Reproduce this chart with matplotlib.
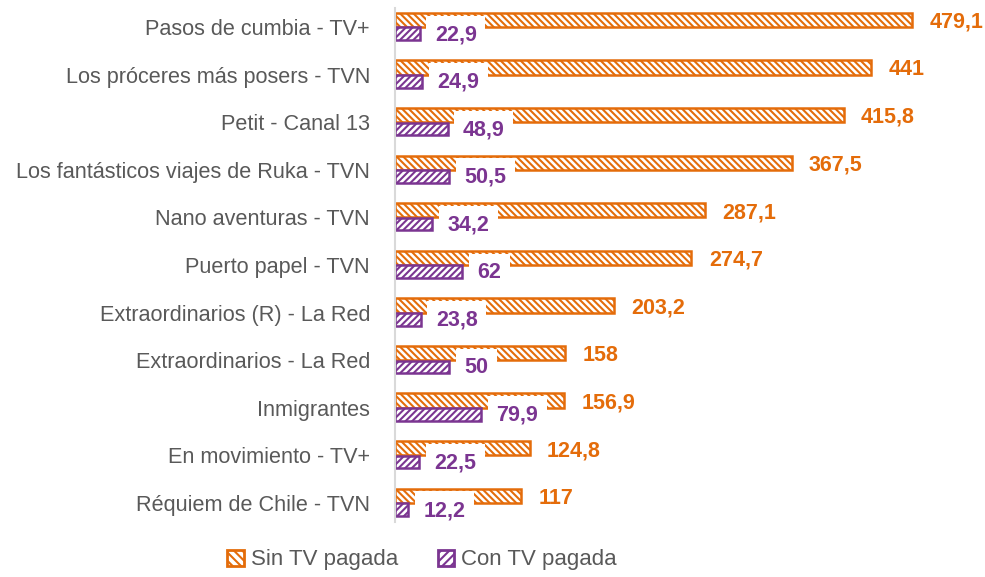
import matplotlib.pyplot as plt
from matplotlib.patches import Patch
import numpy as np

programas = ['Pasos de cumbia - TV+', 'Los próceres más posers - TVN', 'Petit - Canal 13',
             'Los fantásticos viajes de Ruka - TVN', 'Nano aventuras - TVN', 'Puerto papel - TVN',
             'Extraordinarios (R) - La Red', 'Extraordinarios - La Red', 'Inmigrantes',
             'En movimiento - TV+', 'Réquiem de Chile - TVN']
sin_tv = [479.1, 441, 415.8, 367.5, 287.1, 274.7, 203.2, 158, 156.9, 124.8, 117]
con_tv = [22.9, 24.9, 48.9, 50.5, 34.2, 62, 23.8, 50, 79.9, 22.5, 12.2]

naranja = '#E46C0A'
morado = '#7B3591'
gris = '#595959'

plt.rcParams['font.family'] = ['Liberation Sans', 'DejaVu Sans']
plt.rcParams['hatch.linewidth'] = 1.5

def fmt(v):
    s = f'{v:.1f}'.rstrip('0').rstrip('.')
    return s.replace('.', ',')

fig = plt.figure(figsize=(9.85, 5.77), dpi=100)
ax = fig.add_axes([395 / 985, 1 - 522 / 577, 580 / 985, 514 / 577])

y = np.arange(len(programas))
h = 0.3
ax.barh(y - 0.15, sin_tv, height=h, facecolor='white', edgecolor=naranja,
        hatch='\\\\\\\\\\', linewidth=1.8, zorder=2)
ax.barh(y + 0.14, con_tv, height=h * 0.88, facecolor='white', edgecolor=morado,
        hatch='/////', linewidth=1.8, zorder=2)

# etiquetas de valores
for i in range(len(programas)):
    ax.annotate(fmt(sin_tv[i]), (sin_tv[i], y[i] - 0.1), xytext=(12.5, 0),
                textcoords='offset points', ha='left', va='center',
                color=naranja, fontsize=15.5, fontweight='bold', zorder=5)
    ax.annotate(fmt(con_tv[i]), (con_tv[i], y[i] + 0.16), xytext=(11, 0),
                textcoords='offset points', ha='left', va='center',
                color=morado, fontsize=15.5, fontweight='bold', zorder=4,
                bbox=dict(boxstyle='square,pad=0.4', facecolor='white', edgecolor='none'))

ax.set_xlim(0, 537.5)
ax.set_ylim(10.4, -0.4)
ax.set_xticks([])
ax.set_yticks(y)
ax.set_yticklabels(programas, fontsize=15.6, color=gris)
ax.tick_params(axis='y', length=0, pad=18)
for lado in ['top', 'right', 'bottom']:
    ax.spines[lado].set_visible(False)
ax.spines['left'].set_color('#D9D9D9')
ax.spines['left'].set_linewidth(1.5)

manijas = [Patch(facecolor='white', edgecolor=naranja, hatch='\\\\\\\\', linewidth=2, label='Sin TV pagada'),
           Patch(facecolor='white', edgecolor=morado, hatch='////', linewidth=2, label='Con TV pagada')]
leg = fig.legend(handles=manijas, loc='center', bbox_to_anchor=(422 / 985, 1 - 560 / 577),
                 ncol=2, frameon=False, fontsize=16, handlelength=0.75, handleheight=0.75,
                 handletextpad=0.3, columnspacing=1.8)
for t in leg.get_texts():
    t.set_color(gris)

fig.savefig('out.png', dpi=100)
